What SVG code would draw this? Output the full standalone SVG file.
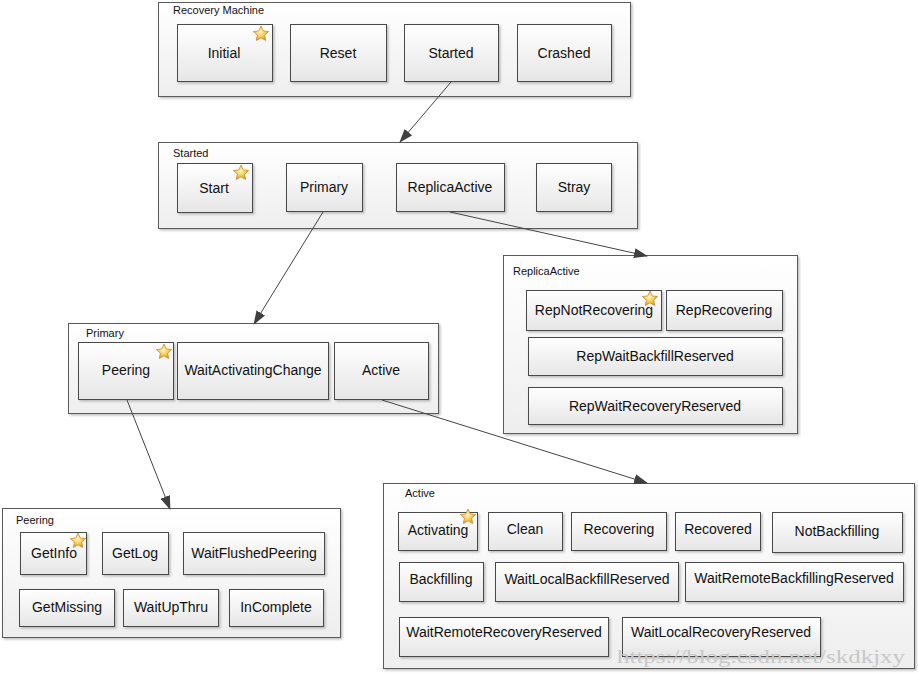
<svg xmlns="http://www.w3.org/2000/svg" xmlns:xlink="http://www.w3.org/1999/xlink" width="918" height="673" viewBox="0 0 918 673">
<defs>
<linearGradient id="gBox" x1="0" y1="0" x2="0" y2="1">
<stop offset="0" stop-color="#ffffff"/>
<stop offset="1" stop-color="#e6e6e6"/>
</linearGradient>
<linearGradient id="gCont" x1="0" y1="0" x2="0" y2="1">
<stop offset="0" stop-color="#ffffff"/>
<stop offset="1" stop-color="#eeeeee"/>
</linearGradient>
<radialGradient id="gStar" cx="0.45" cy="0.4" r="0.6">
<stop offset="0" stop-color="#fff6c8"/>
<stop offset="0.6" stop-color="#f5c94a"/>
<stop offset="1" stop-color="#d9962a"/>
</radialGradient>
<filter id="sh" x="-5%" y="-5%" width="115%" height="125%">
<feDropShadow dx="1.5" dy="1.5" stdDeviation="1" flood-color="#888" flood-opacity="0.55"/>
</filter>
<marker id="arr" markerWidth="14" markerHeight="10" refX="13" refY="5" orient="auto" markerUnits="userSpaceOnUse">
<path d="M0,0 L14,5 L0,10 Z" fill="#404040"/>
</marker>
<symbol id="star" viewBox="-9 -9 18 18" overflow="visible">
<path d="M0,-8 L2.23,-3.07 L7.61,-2.47 L3.61,1.17 L4.7,6.47 L0,3.8 L-4.7,6.47 L-3.61,1.17 L-7.61,-2.47 L-2.23,-3.07 Z" fill="url(#gStar)" stroke="#c98a2a" stroke-width="0.8" stroke-linejoin="round"/>
</symbol>
</defs>
<style>
.cont { fill: url(#gCont); stroke: #5a5a5a; stroke-width: 1; filter: url(#sh); }
.box { fill: url(#gBox); stroke: #4a4a4a; stroke-width: 1; filter: url(#sh); }
.ct { font-family: "Liberation Sans", Arial, sans-serif; font-size: 11px; fill: #111; }
.bt { font-family: "Liberation Sans", Arial, sans-serif; font-size: 14px; fill: #111; text-anchor: middle; }
.conn line { stroke: #444; stroke-width: 1; marker-end: url(#arr); }
.wm { font-family: "Liberation Serif", "Times New Roman", serif; font-size: 18px; fill: #c8c8c8; }
</style>
<rect width="918" height="673" fill="#ffffff"/>

<g id="recovery-machine">
<rect class="cont" x="158.5" y="2.5" width="472" height="94"/>
<text class="ct" x="173" y="14">Recovery Machine</text>
<g id="initial"><rect class="box" x="177.5" y="24.5" width="95" height="57"/><text class="bt" x="224" y="58">Initial</text><use href="#star" x="252" y="25" width="18" height="18"/></g>
<g id="reset"><rect class="box" x="290.5" y="24.5" width="96" height="57"/><text class="bt" x="338" y="58">Reset</text></g>
<g id="started-st"><rect class="box" x="404.5" y="24.5" width="94" height="57"/><text class="bt" x="451" y="58">Started</text></g>
<g id="crashed"><rect class="box" x="517.5" y="24.5" width="94" height="57"/><text class="bt" x="564" y="58">Crashed</text></g>
</g>

<g id="started">
<rect class="cont" x="158.5" y="142.5" width="479" height="86"/>
<text class="ct" x="173" y="157">Started</text>
<g id="start"><rect class="box" x="177.5" y="163.5" width="75" height="49"/><text class="bt" x="214" y="193">Start</text><use href="#star" x="232" y="164" width="18" height="18"/></g>
<g id="primary-st"><rect class="box" x="286.5" y="163.5" width="76" height="48"/><text class="bt" x="324" y="192">Primary</text></g>
<g id="replicaactive-st"><rect class="box" x="396.5" y="163.5" width="108" height="48"/><text class="bt" x="450" y="192">ReplicaActive</text></g>
<g id="stray"><rect class="box" x="536.5" y="163.5" width="75" height="48"/><text class="bt" x="574" y="192">Stray</text></g>
</g>

<g id="replicaactive">
<rect class="cont" x="503.5" y="255.5" width="294" height="178"/>
<text class="ct" x="513" y="275">ReplicaActive</text>
<g id="repnotrecovering"><rect class="box" x="526.5" y="290.5" width="135" height="40"/><text class="bt" x="594" y="315">RepNotRecovering</text><use href="#star" x="641" y="290" width="18" height="18"/></g>
<g id="reprecovering"><rect class="box" x="666.5" y="290.5" width="116" height="40"/><text class="bt" x="724" y="315">RepRecovering</text></g>
<g id="repwaitbackfillreserved"><rect class="box" x="528.5" y="337.5" width="254" height="38"/><text class="bt" x="655" y="361">RepWaitBackfillReserved</text></g>
<g id="repwaitrecoveryreserved"><rect class="box" x="528.5" y="387.5" width="254" height="37"/><text class="bt" x="655" y="411">RepWaitRecoveryReserved</text></g>
</g>

<g id="primary">
<rect class="cont" x="68.5" y="323.5" width="370" height="90"/>
<text class="ct" x="86" y="337">Primary</text>
<g id="peering-pr"><rect class="box" x="78.5" y="342.5" width="95" height="57"/><text class="bt" x="126" y="375">Peering</text><use href="#star" x="155" y="343" width="18" height="18"/></g>
<g id="waitactivatingchange"><rect class="box" x="177.5" y="342.5" width="151" height="57"/><text class="bt" x="253" y="375">WaitActivatingChange</text></g>
<g id="active-pr"><rect class="box" x="334.5" y="342.5" width="94" height="57"/><text class="bt" x="381" y="375">Active</text></g>
</g>

<g id="peering">
<rect class="cont" x="2.5" y="508.5" width="338" height="129"/>
<text class="ct" x="16" y="524">Peering</text>
<g id="getinfo"><rect class="box" x="20.5" y="532.5" width="66" height="42"/><text class="bt" x="54" y="558">GetInfo</text><use href="#star" x="69" y="532" width="18" height="18"/></g>
<g id="getlog"><rect class="box" x="102.5" y="532.5" width="66" height="42"/><text class="bt" x="135" y="558">GetLog</text></g>
<g id="waitflushedpeering"><rect class="box" x="183.5" y="532.5" width="141" height="42"/><text class="bt" x="254" y="558">WaitFlushedPeering</text></g>
<g id="getmissing"><rect class="box" x="19.5" y="589.5" width="95" height="37"/><text class="bt" x="67" y="612">GetMissing</text></g>
<g id="waitupthru"><rect class="box" x="123.5" y="589.5" width="95" height="37"/><text class="bt" x="171" y="612">WaitUpThru</text></g>
<g id="incomplete"><rect class="box" x="229.5" y="589.5" width="94" height="37"/><text class="bt" x="276" y="612">InComplete</text></g>
</g>

<g id="active">
<rect class="cont" x="383.5" y="483.5" width="531" height="185"/>
<text class="ct" x="405" y="497">Active</text>
<g id="activating"><rect class="box" x="398.5" y="512.5" width="79" height="38"/><text class="bt" x="438" y="535">Activating</text><use href="#star" x="459" y="508" width="18" height="18"/></g>
<g id="clean"><rect class="box" x="488.5" y="512.5" width="74" height="38"/><text class="bt" x="525" y="534">Clean</text></g>
<g id="recovering"><rect class="box" x="571.5" y="512.5" width="95" height="38"/><text class="bt" x="619" y="534">Recovering</text></g>
<g id="recovered"><rect class="box" x="675.5" y="512.5" width="85" height="38"/><text class="bt" x="718" y="534">Recovered</text></g>
<g id="notbackfilling"><rect class="box" x="772.5" y="512.5" width="130" height="40"/><text class="bt" x="837" y="536">NotBackfilling</text></g>
<g id="backfilling"><rect class="box" x="399.5" y="562.5" width="84" height="39"/><text class="bt" x="441" y="584">Backfilling</text></g>
<g id="waitlocalbackfillreserved"><rect class="box" x="495.5" y="562.5" width="183" height="39"/><text class="bt" x="587" y="584">WaitLocalBackfillReserved</text></g>
<g id="waitremotebackfillingreserved"><rect class="box" x="685.5" y="562.5" width="218" height="39"/><text class="bt" x="794" y="583">WaitRemoteBackfillingReserved</text></g>
<g id="waitremoterecoveryreserved"><rect class="box" x="399.5" y="617.5" width="209" height="39"/><text class="bt" x="504" y="637">WaitRemoteRecoveryReserved</text></g>
<g id="waitlocalrecoveryreserved"><rect class="box" x="622.5" y="617.5" width="198" height="39"/><text class="bt" x="721" y="637">WaitLocalRecoveryReserved</text></g>
</g>

<g id="connectors" class="conn">
<line x1="451" y1="82" x2="400" y2="142"/>
<line x1="450" y1="212" x2="647" y2="256"/>
<line x1="323" y1="212" x2="254" y2="324"/>
<line x1="127" y1="400" x2="170" y2="509"/>
<line x1="382" y1="400" x2="647" y2="483"/>
</g>

<text class="wm" x="617" y="663" textLength="288" lengthAdjust="spacingAndGlyphs">https://blog.csdn.net/skdkjxy</text>
</svg>
